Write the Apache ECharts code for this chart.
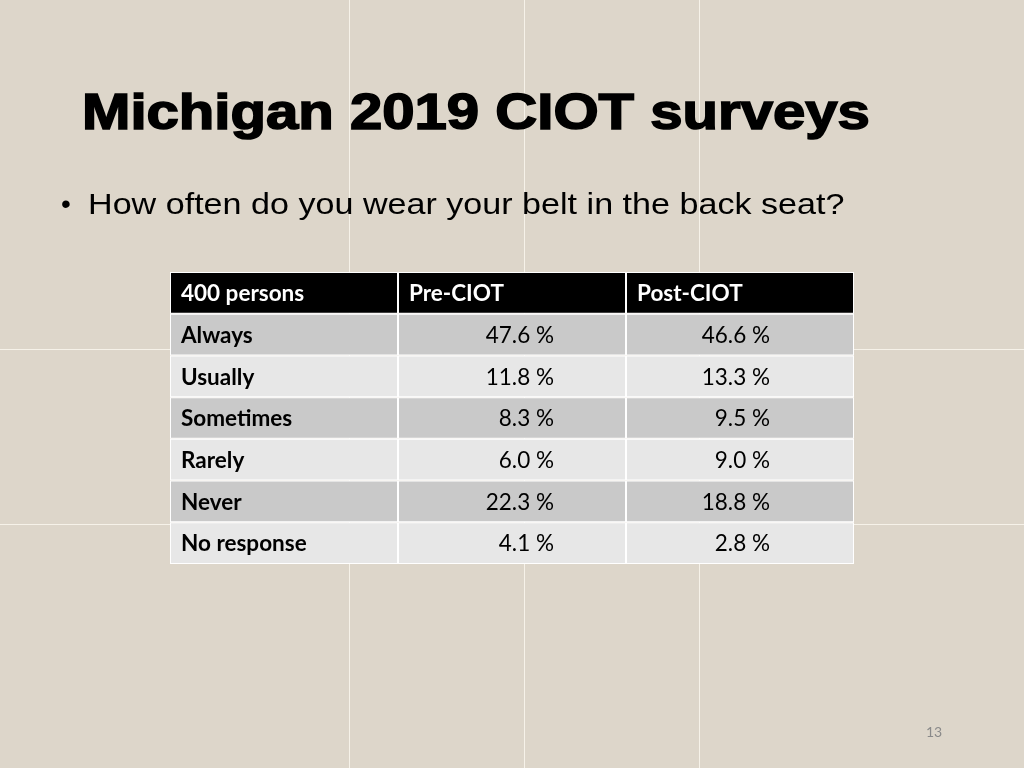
<!DOCTYPE html>
<html>
<head>
<meta charset="utf-8">
<script src="https://cdn.jsdelivr.net/npm/echarts@6/dist/echarts.min.js"></script>
<style>
html,body{margin:0;padding:0;background:#ddd6ca;}
#chart{width:1024px;height:768px;}
</style>
</head>
<body>
<div id="chart"></div>
<script>
// ---- data ----
var headers = ['400 persons', 'Pre-CIOT', 'Post-CIOT'];
var categories = ['Always', 'Usually', 'Sometimes', 'Rarely', 'Never', 'No response'];
var preCIOT = [47.6, 11.8, 8.3, 6.0, 22.3, 4.1];
var postCIOT = [46.6, 13.3, 9.5, 9.0, 18.8, 2.8];

var titleText = 'Michigan 2019 CIOT surveys';
var questionText = 'How often do you wear your belt in the back seat?';
var pageNumber = '13';

// ---- build table cells ----
var rowLabels = ['header'].concat(categories);
var cells = [];
headers.forEach(function (h, c) { cells.push([c, 0, h, 'header']); });
categories.forEach(function (cat, i) {
  var kind = (i % 2 === 0) ? 'dark' : 'light';
  cells.push([0, i + 1, cat, kind]);
  cells.push([1, i + 1, preCIOT[i].toFixed(1) + ' %', kind]);
  cells.push([2, i + 1, postCIOT[i].toFixed(1) + ' %', kind]);
});

var fills = { header: '#000000', dark: '#c9c9c9', light: '#e7e7e7' };
var valueRightPad = [0, 72, 84];
var cellFont = 'Lato, "Open Sans", sans-serif';

function renderItem(params, api) {
  var c = api.value(0), r = api.value(1);
  var center = api.coord([c, r]);
  var size = api.size([1, 1]);
  var w = size[0], h = size[1];
  var x = center[0] - w / 2, y = center[1] - h / 2;
  var d = cells[params.dataIndex];
  var kind = d[3], txt = d[2];
  var isHeader = kind === 'header';
  var children = [
    { type: 'rect', shape: { x: x, y: y, width: w, height: h }, style: { fill: '#ffffff' } },
    { type: 'rect', shape: { x: x + 1, y: y + 1, width: w - 2, height: h - 2 }, style: { fill: fills[kind] } }
  ];
  var textStyle;
  if (isHeader || c === 0) {
    textStyle = { x: x + 11, y: center[1] + 1, text: txt, align: 'left', verticalAlign: 'middle',
      fill: isHeader ? '#ffffff' : '#000000', font: 'bold 22.5px ' + cellFont };
  } else {
    textStyle = { x: x + w - valueRightPad[c], y: center[1] + 1, text: txt, align: 'right', verticalAlign: 'middle',
      fill: '#000000', font: '22.5px ' + cellFont };
  }
  children.push({ type: 'text', style: textStyle });
  return { type: 'group', children: children };
}

var chart = echarts.init(document.getElementById('chart'), null, { renderer: 'canvas' });

var seamColor = 'rgba(250,247,238,0.85)';
var option = {
  backgroundColor: '#ddd6ca',
  animation: false,
  graphic: [
    { type: 'line', z: -10, shape: { x1: 349.5, y1: 0, x2: 349.5, y2: 768 }, style: { stroke: seamColor, lineWidth: 1 } },
    { type: 'line', z: -10, shape: { x1: 524.5, y1: 0, x2: 524.5, y2: 768 }, style: { stroke: seamColor, lineWidth: 1 } },
    { type: 'line', z: -10, shape: { x1: 699.5, y1: 0, x2: 699.5, y2: 768 }, style: { stroke: seamColor, lineWidth: 1 } },
    { type: 'line', z: -10, shape: { x1: 0, y1: 349.5, x2: 1024, y2: 349.5 }, style: { stroke: seamColor, lineWidth: 1 } },
    { type: 'line', z: -10, shape: { x1: 0, y1: 524.5, x2: 1024, y2: 524.5 }, style: { stroke: seamColor, lineWidth: 1 } },
    { type: 'text', x: 82, y: 90, scaleX: 1.162, z: 10,
      style: { text: titleText, align: 'left', verticalAlign: 'top', fill: '#000',
        font: 'bold 50px "Liberation Sans", Arial, sans-serif', stroke: '#000', lineWidth: 1.6 } },
    { type: 'text', x: 61, y: 191, z: 10,
      style: { text: '\u2022', align: 'left', verticalAlign: 'top', fill: '#000',
        font: '28px "Liberation Sans", Arial, sans-serif' } },
    { type: 'text', x: 88, y: 191, scaleX: 1.176, z: 10,
      style: { text: questionText, align: 'left', verticalAlign: 'top', fill: '#000',
        font: '29px "Liberation Sans", Arial, sans-serif' } },
    { type: 'text', x: 926, y: 725, z: 10,
      style: { text: pageNumber, align: 'left', verticalAlign: 'top', fill: '#8a8a8a',
        font: '14px Lato, sans-serif' } }
  ],
  grid: { left: 170, top: 272, width: 684, height: 292, containLabel: false },
  xAxis: { type: 'category', data: headers, show: false, boundaryGap: true },
  yAxis: { type: 'category', data: rowLabels, inverse: true, show: false, boundaryGap: true },
  series: [{
    type: 'custom',
    renderItem: renderItem,
    encode: { x: 0, y: 1 },
    data: cells.map(function (d) { return [d[0], d[1]]; }),
    z: 2
  }]
};
chart.setOption(option);
</script>
</body>
</html>
